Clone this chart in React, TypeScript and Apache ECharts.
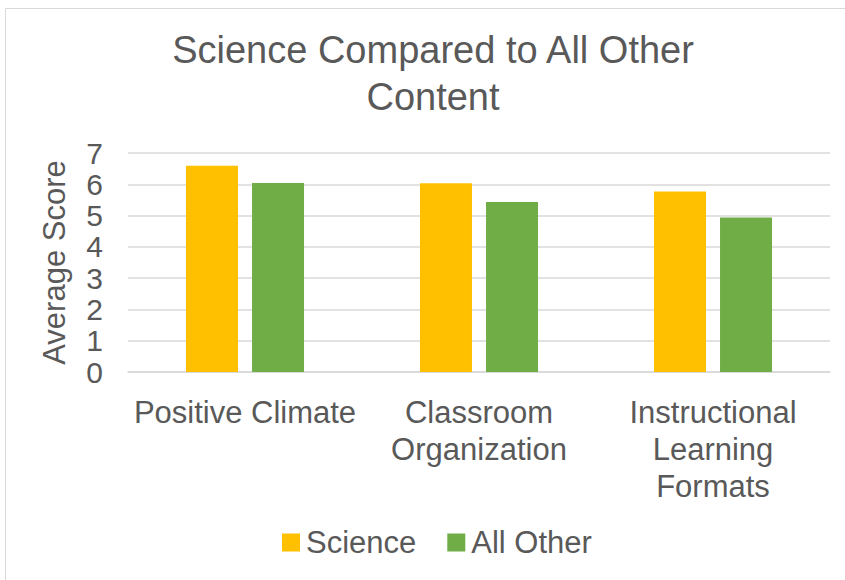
import React, { useEffect, useRef } from "react";
import * as echarts from "echarts";

const categories = ["Positive Climate", "Classroom Organization", "Instructional Learning Formats"];
const categoryLabels = ["Positive Climate", "Classroom\nOrganization", "Instructional\nLearning\nFormats"];
const seriesNames = ["Science", "All Other"];
const scienceValues = [6.59, 6.03, 5.77];
const allOtherValues = [6.04, 5.43, 4.94];
const yTicks = [0, 1, 2, 3, 4, 5, 6, 7];

const FONT = "'Liberation Sans', Arial, sans-serif";
const TEXT = "#595959";
const GRID = "#D9D9D9";

export default function App() {
  const ref = useRef<HTMLDivElement>(null);
  useEffect(() => {
    if (!ref.current) return;
    const chart = echarts.init(ref.current, null, { renderer: "svg" });
    chart.setOption({
      animation: false,
      backgroundColor: "#ffffff",
      textStyle: { fontFamily: FONT },
      title: {
        text: "Science Compared to All Other\nContent",
        left: 433,
        top: 26,
        padding: 0,
        textAlign: "center",
        textStyle: { fontFamily: FONT, fontSize: 38, fontWeight: "normal", color: TEXT, lineHeight: 47 },
      },
      legend: {
        left: 282,
        top: 527,
        padding: 0,
        itemWidth: 18,
        itemHeight: 18,
        itemGap: 31,
        icon: "rect",
        data: seriesNames,
        textStyle: { fontFamily: FONT, fontSize: 31, color: TEXT, padding: [0, 0, 0, 1] },
      },
      graphic: [
        {
          type: "rect",
          shape: { x: 5.5, y: 8.5, width: 900, height: 700 },
          style: { fill: "none", stroke: GRID, lineWidth: 1 },
          silent: true,
          z: -1,
        },
      ],
      grid: { left: 128, right: 15, top: 153, bottom: 208, containLabel: false },
      xAxis: {
        type: "category",
        data: categories,
        axisLine: { show: true, lineStyle: { color: GRID, width: 1.5 } },
        axisTick: { show: false },
        axisLabel: {
          interval: 0,
          margin: 22,
          fontFamily: FONT,
          fontSize: 31,
          color: TEXT,
          lineHeight: 37,
          align: "center",
          formatter: (v: string) => categoryLabels[categories.indexOf(v)],
        },
      },
      yAxis: {
        type: "value",
        min: yTicks[0],
        max: yTicks[yTicks.length - 1],
        interval: 1,
        name: "Average Score",
        nameLocation: "middle",
        nameGap: 60,
        nameTextStyle: { fontFamily: FONT, fontSize: 31, color: TEXT, lineHeight: 28 },
        axisLine: { show: false },
        axisTick: { show: false },
        splitLine: { show: true, lineStyle: { color: GRID, width: 1.5 } },
        axisLabel: { margin: 25, fontFamily: FONT, fontSize: 30, lineHeight: 29, color: TEXT },
      },
      series: [
        {
          name: seriesNames[0],
          type: "bar",
          data: scienceValues,
          barWidth: 52,
          barGap: "27%",
          itemStyle: { color: "#FFC000" },
        },
        {
          name: seriesNames[1],
          type: "bar",
          data: allOtherValues,
          barWidth: 52,
          barGap: "27%",
          itemStyle: { color: "#70AD47" },
        },
      ],
    });
    return () => chart.dispose();
  }, []);
  return (
    <div
      ref={ref}
      style={{ position: "fixed", left: 0, top: 0, width: 845, height: 580 }}
    />
  );
}
